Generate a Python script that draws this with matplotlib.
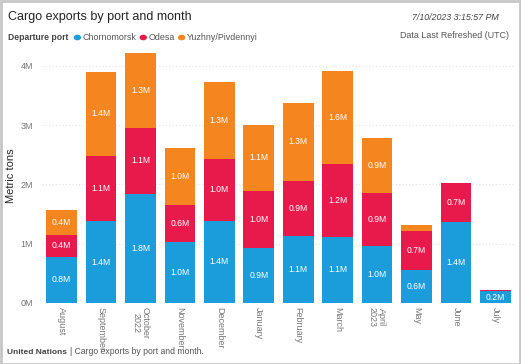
import matplotlib
matplotlib.use("Agg")
import matplotlib.pyplot as plt
from matplotlib.patches import Rectangle
import numpy as np

plt.rcParams['font.family'] = ['Liberation Sans', 'DejaVu Sans']

months = ["August", "September", "October\n2022", "November", "December", "January",
          "February", "March", "April\n2023", "May", "June", "July"]
ports = ["Chornomorsk", "Odesa", "Yuzhny/Pivdennyi"]
chornomorsk = [0.78, 1.38, 1.84, 1.03, 1.39, 0.92, 1.13, 1.12, 0.96, 0.56, 1.36, 0.20]
odesa       = [0.37, 1.10, 1.11, 0.62, 1.04, 0.97, 0.92, 1.23, 0.90, 0.66, 0.66, 0.015]
yuzhny      = [0.42, 1.42, 1.27, 0.97, 1.30, 1.12, 1.33, 1.57, 0.92, 0.10, 0.0, 0.0]
yticks = [0, 1, 2, 3, 4]
ytick_labels = ["0M", "1M", "2M", "3M", "4M"]

colors = ["#1B9DDB", "#E8194B", "#F5861F"]

W, H = 521, 364
fig = plt.figure(figsize=(W / 100, H / 100), dpi=100)
fig.patch.set_facecolor("white")

def px(x, y):
    return x / W, 1 - y / H

left, right, top, bottom = 42, 515, 48, 303
ax = fig.add_axes([left / W, 1 - bottom / H, (right - left) / W, (bottom - top) / H])

x = np.arange(len(months))
series = [chornomorsk, odesa, yuzhny]
base = np.zeros(len(months))
for vals, c in zip(series, colors):
    vals = np.array(vals)
    ax.bar(x, vals, bottom=base, width=0.78, color=c, edgecolor="none", zorder=3)
    for xi, b, v in zip(x, base, vals):
        if v >= 0.15:
            ax.text(xi, b + v / 2, f"{v:.1f}M", ha="center", va="center",
                    color="white", fontsize=6.2, zorder=4)
    base = base + vals

ax.set_xlim(-0.5, 11.5)
ax.set_ylim(0, 4.3)
ax.set_yticks(yticks)
ax.set_yticklabels(ytick_labels)
ax.set_xticks(x)
ax.set_xticklabels(months, rotation=270, va="top", ha="center", linespacing=1.1)
ax.tick_params(axis="both", length=0, labelsize=6.5, labelcolor="#777777")
ax.tick_params(axis="y", pad=6.5)
ax.tick_params(axis="x", pad=3)
for s in ax.spines.values():
    s.set_visible(False)
ax.yaxis.grid(True, color="#e4e4e4", linestyle=(0, (1, 2)), linewidth=0.8, zorder=0)
ax.set_axisbelow(True)
ax.set_ylabel("Metric tons", fontsize=8, color="#252423")
ax.yaxis.set_label_coords((16 - left) / (right - left), 0.5)

# Title and header
fig.text(*px(8, 17), "Cargo exports by port and month", fontsize=9.0,
         color="#252423", va="center", ha="left")
fig.text(*px(499, 17), "7/10/2023 3:15:57 PM", fontsize=6.4, style="italic",
         color="#444444", va="center", ha="right")
fig.text(*px(509, 35), "Data Last Refreshed (UTC)", fontsize=6.4,
         color="#555555", va="center", ha="right")

fig.canvas.draw()
renderer = fig.canvas.get_renderer()

def text_right(t):
    bb = t.get_window_extent(renderer)
    return bb.x1

# Legend (laid out from measured widths)
t = fig.text(*px(8, 37), "Departure port", fontsize=6.2, fontweight="bold",
             color="#444444", va="center", ha="left")
cur = text_right(t) + 6
for name, c in zip(ports, colors):
    fig.patches.append(plt.Circle(((cur + 3) / W, 1 - 37.5 / H), 3.0 / W, color=c,
                                  transform=fig.transFigure, figure=fig))
    tt = fig.text((cur + 8) / W, 1 - 37 / H, name, fontsize=6.4, color="#555555",
                  va="center", ha="left")
    cur = text_right(tt) + 4

# Footer
t1 = fig.text(*px(7, 352), "United Nations", fontsize=6.0, fontweight="bold",
              color="#444444", va="center", ha="left")
r = text_right(t1)
fig.text((r + 3) / W, 1 - 352 / H, "| Cargo exports by port and month.", fontsize=6.2,
         color="#555555", va="center", ha="left")

# Frame
fig.patches.append(Rectangle((0.5 / W, 0.5 / H), 1 - 1.5 / W, 1 - 1.5 / H,
                             transform=fig.transFigure, fill=False,
                             edgecolor="#c6c6c6", linewidth=2, figure=fig))

fig.savefig("out.png", dpi=100)
